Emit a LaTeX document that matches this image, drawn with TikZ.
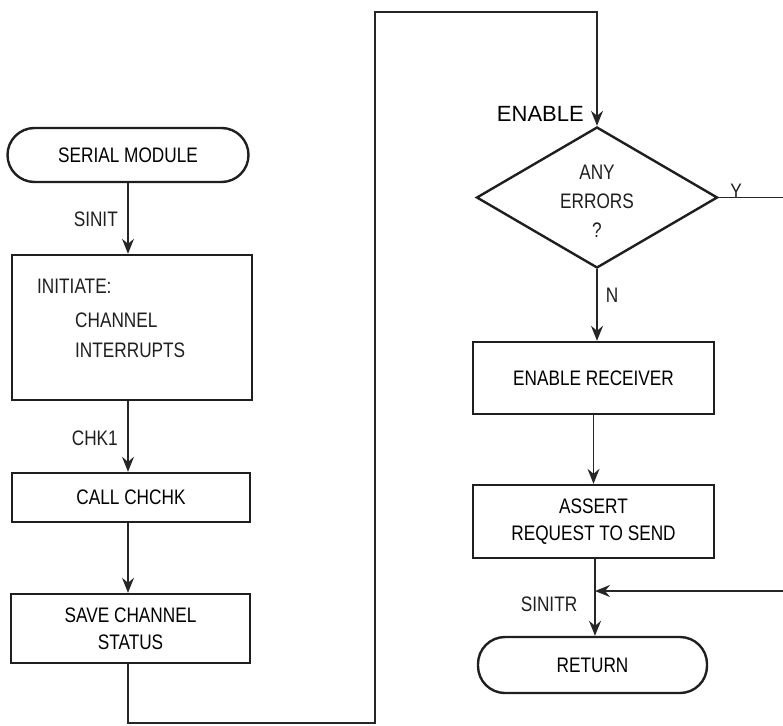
\documentclass[tikz,border=0pt]{standalone}
\usepackage{fontspec}
\setmainfont{Liberation Sans}
\newfontfamily\narrowfont{Liberation Sans}[FakeStretch=0.82]
\usetikzlibrary{shapes.geometric,arrows.meta}
\begin{document}
\begin{tikzpicture}[x=1pt,y=-1pt,
  box/.style={draw=black!88,line width=2.4pt,inner sep=0pt,align=center,
    font=\narrowfont\fontsize{21}{27}\selectfont},
  term/.style={box,rounded corners=27pt},
  txt/.style={inner sep=0pt,align=center,font=\narrowfont\fontsize{21}{27}\selectfont,text=black!88},
  conn/.style={draw=black!85,line width=1.3pt,-{Stealth[length=15pt,width=12pt,inset=5pt]}},
  plain/.style={draw=black!85,line width=1.3pt}]
\useasboundingbox (0,0) rectangle (783,725);
% left column
\node[term,minimum width=241pt,minimum height=54pt] (serial) at (128,155) {SERIAL MODULE};
\node[box,minimum width=240pt,minimum height=145pt] (init) at (132,327.5) {};
\node[txt,anchor=west] (t1) at (37,286) {INITIATE:};
\node[txt,anchor=west] (t2) at (75,320) {CHANNEL};
\node[txt,anchor=west] (t3) at (75,350) {INTERRUPTS};
\node[box,minimum width=238pt,minimum height=49pt] (call) at (131,497.5) {CALL CHCHK};
\node[box,minimum width=239pt,minimum height=69pt] (save) at (130.5,628.5) {SAVE CHANNEL\\STATUS};
\node[txt,anchor=east] (l1) at (118,219) {SINIT};
\node[txt,anchor=east] (l2) at (118,438) {CHK1};
% right column
\node[draw=black!88,line width=2.4pt,diamond,inner sep=0pt,minimum width=241pt,minimum height=141pt] (dia) at (597,197.5) {};
\node[txt] (dt) at (597,201) {ANY\\[2pt]ERRORS\\[2pt]?};
\node[inner sep=0pt,anchor=east,font=\fontsize{22}{26}\selectfont] (en) at (584,114) {ENABLE};
\node[box,minimum width=241pt,minimum height=72pt] (er) at (593.5,378) {ENABLE RECEIVER};
\node[box,minimum width=241pt,minimum height=73pt] (as) at (593.5,521.5) {ASSERT\\REQUEST TO SEND};
\node[term,minimum width=229pt,minimum height=56pt] (ret) at (592.5,665) {RETURN};
\node[txt] (ly) at (736,191) {Y};
\node[txt] (ln) at (612,295) {N};
\node[txt] (lr) at (549,604) {SINITR};
% connectors
\coordinate (c1) at (128,723);
\coordinate (c2) at (375,723);
\coordinate (c3) at (375,12);
\coordinate (c4) at (597,12);
\coordinate (r1) at (790,197.5);
\coordinate (r2) at (790,591);
\coordinate (jn) at (595,591);
\draw[conn] (serial.south) -- (serial.south |- init.north);
\draw[conn] (serial.south |- init.south) -- (serial.south |- call.north);
\draw[conn] (serial.south |- call.south) -- (serial.south |- save.north);
\draw[conn] (serial.south |- save.south) -- (c1) -- (c2) -- (c3) -- (c4) -- (dia.north);
\draw[conn] (dia.south) -- (dia.south |- er.north);
\draw[conn] (er.south) -- (er.south |- as.north);
\draw[plain] (dia.east) -- (r1) -- (r2);
\draw[conn] (r2) -- (jn);
\draw[conn] (jn |- as.south) -- (jn |- ret.north);
\end{tikzpicture}
\end{document}
